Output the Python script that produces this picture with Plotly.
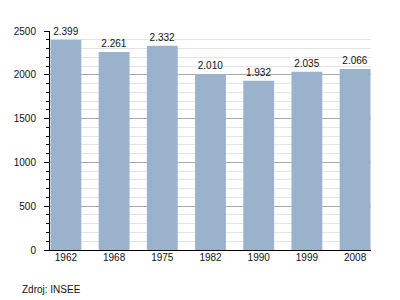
import plotly.graph_objects as go

years = ["1962", "1968", "1975", "1982", "1990", "1999", "2008"]
population = [2399, 2261, 2332, 2010, 1932, 2035, 2066]
labels = ["2.399", "2.261", "2.332", "2.010", "1.932", "2.035", "2.066"]
y_ticks = [0, 500, 1000, 1500, 2000, 2500]
source_text = "Zdroj: INSEE"

FONT = "Liberation Sans, Arial, sans-serif"

fig = go.Figure()
fig.add_trace(go.Bar(
    x=years, y=population,
    text=labels, textposition="outside",
    textfont=dict(family=FONT, size=10, color="#111111"),
    marker=dict(color="#9ab2cb", line=dict(width=0)),
    cliponaxis=False,
    width=0.64,
))

fig.update_layout(
    width=400, height=300,
    margin=dict(l=50, r=29, t=31, b=50),
    paper_bgcolor="white", plot_bgcolor="white",
    showlegend=False,
    font=dict(family=FONT, size=10, color="#111111"),
    xaxis=dict(
        type="category", range=[-0.33, 6.33],
        showline=True, linecolor="black", linewidth=1,
        ticks="", showgrid=False, tickfont=dict(size=10),
        ticklabelstandoff=-2,
    ),
    yaxis=dict(
        range=[0, 2500], tickvals=y_ticks,
        showline=True, linecolor="black", linewidth=1,
        ticks="outside", ticklen=5, tickcolor="black",
        showgrid=True, gridcolor="#a8a8a8", gridwidth=1,
        zeroline=False, tickfont=dict(size=10),
        ticklabelstandoff=6,
        minor=dict(dtick=100, ticks="outside", ticklen=3, tickcolor="black",
                   showgrid=True, gridcolor="#e4e4e4", gridwidth=1),
    ),
    annotations=[dict(
        text=source_text, xref="paper", yref="paper",
        x=-30/321, y=-39/219, xanchor="left", yanchor="middle",
        showarrow=False, font=dict(family=FONT, size=10, color="#111111"),
    )],
)

fig.write_html("out.html")
